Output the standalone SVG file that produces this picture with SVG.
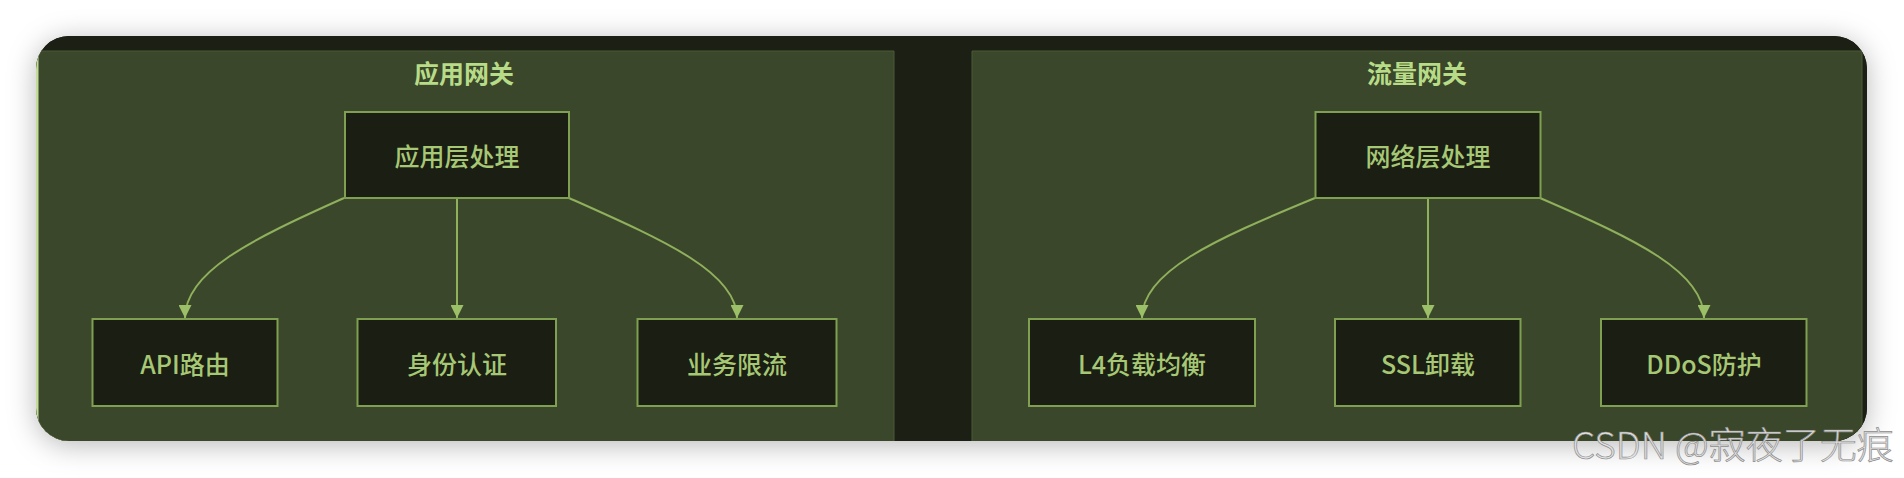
<svg xmlns="http://www.w3.org/2000/svg" width="1904" height="478" viewBox="0 0 1904 478">
  <defs>
    <filter id="shadow" x="-5%" y="-30%" width="110%" height="160%">
      <feDropShadow dx="0" dy="4" stdDeviation="14" flood-color="#000" flood-opacity="0.28"/>
    </filter>
    <clipPath id="frame">
      <rect x="36" y="36" width="1831" height="405" rx="33" ry="33"/>
    </clipPath>
    <marker id="arrow" viewBox="0 0 10 10" refX="10" refY="5" markerUnits="userSpaceOnUse" markerWidth="13" markerHeight="13" orient="auto">
      <path d="M0,0 L10,5 L0,10 z" fill="#9cc068"/>
    </marker>
    <style>
      .node rect { fill: #1a1e13; stroke: #7fa050; stroke-width: 2; }
      .label { font-family: "Noto Sans CJK SC", "Liberation Sans", sans-serif; font-size: 25px; font-weight: 500; fill: #a6c774; text-anchor: middle; dominant-baseline: central; }
      .title { font-family: "Noto Sans CJK SC", "Liberation Sans", sans-serif; font-size: 25px; font-weight: 600; fill: #b8db88; text-anchor: middle; dominant-baseline: central; }
      .edge { fill: none; stroke: #8fb05c; stroke-width: 2; marker-end: url(#arrow); }
      .cluster { fill: #3b472a; }
      .wm { font-family: "Noto Sans CJK SC", "Liberation Sans", sans-serif; font-size: 37px; font-weight: 300; fill: #e2e2e2; stroke: #8c8c8c; stroke-width: 0.7; }
    </style>
  </defs>
  <rect x="0" y="0" width="1904" height="478" fill="#ffffff"/>
  <rect x="36" y="36" width="1831" height="405" rx="33" ry="33" fill="#1b1f14" filter="url(#shadow)"/>
  <g clip-path="url(#frame)">
    <rect x="36" y="36" width="1831" height="405" fill="#1b1f14"/>
    <g id="cluster-app">
      <rect x="36" y="51" width="858" height="392" fill="#c3dc98"/>
      <rect class="cluster" x="38.5" y="51" width="855.5" height="392"/>
      <line x1="894" y1="51" x2="894" y2="441" stroke="#4c5a35" stroke-width="1"/>
      <line x1="38" y1="51" x2="894" y2="51" stroke="#4c5a35" stroke-width="1"/>
      <text class="title" x="464" y="71.5">应用网关</text>
    </g>
    <g id="cluster-net">
      <rect class="cluster" x="972" y="51" width="890" height="392"/>
      <line x1="972" y1="51" x2="972" y2="441" stroke="#4c5a35" stroke-width="1"/>
      <line x1="972" y1="51" x2="1862" y2="51" stroke="#4c5a35" stroke-width="1"/>
      <line x1="1862" y1="51" x2="1862" y2="441" stroke="#4c5a35" stroke-width="1"/>
      <text class="title" x="1417" y="71.5">流量网关</text>
    </g>
  </g>
  <g id="connectors">
    <path class="edge" d="M344,198 C250,240 185,272 185,318"/>
    <path class="edge" d="M457,198 L457,318"/>
    <path class="edge" d="M569,198 C663,240 737,272 737,318"/>
    <path class="edge" d="M1315,198 C1213,240 1142,272 1142,318"/>
    <path class="edge" d="M1428,198 L1428,318"/>
    <path class="edge" d="M1540,198 C1637,240 1704,272 1704,318"/>
  </g>
  <g id="node-app-layer" class="node">
    <rect x="345" y="112" width="224" height="86"/>
    <text class="label" x="457" y="155">应用层处理</text>
  </g>
  <g id="node-api" class="node">
    <rect x="92.5" y="319" width="185" height="87"/>
    <text class="label" x="185" y="362.5">API路由</text>
  </g>
  <g id="node-auth" class="node">
    <rect x="357.5" y="319" width="198.5" height="87"/>
    <text class="label" x="457" y="362.5">身份认证</text>
  </g>
  <g id="node-ratelimit" class="node">
    <rect x="637.5" y="319" width="199" height="87"/>
    <text class="label" x="737" y="362.5">业务限流</text>
  </g>
  <g id="node-net-layer" class="node">
    <rect x="1315.5" y="112" width="225" height="86"/>
    <text class="label" x="1428" y="155">网络层处理</text>
  </g>
  <g id="node-l4" class="node">
    <rect x="1029" y="319" width="226" height="87"/>
    <text class="label" x="1142" y="362.5">L4负载均衡</text>
  </g>
  <g id="node-ssl" class="node">
    <rect x="1335" y="319" width="185.5" height="87"/>
    <text class="label" x="1428" y="362.5">SSL卸载</text>
  </g>
  <g id="node-ddos" class="node">
    <rect x="1601" y="319" width="205.5" height="87"/>
    <text class="label" x="1704" y="362.5">DDoS防护</text>
  </g>
  <text class="wm" x="1572" y="459">CSDN @寂夜了无痕</text>
</svg>
